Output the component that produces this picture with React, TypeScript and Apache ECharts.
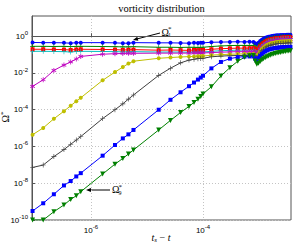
import React, { useEffect, useRef } from "react";
import * as echarts from "echarts";

// log10(t_s - t)
const tExp = [
  -7.04, -6.85, -6.66, -6.48, -6.36, -6.26, -6.18,
  -5.79, -5.57, -5.43, -5.33, -5.24,
  -4.79, -4.58, -4.40, -4.25, -4.16, -4.09, -4.04, -4.00,
  -3.85, -3.68, -3.52, -3.38, -3.26, -3.17, -3.10,
  -3.07, -3.04, -3.01, -2.98, -2.95, -2.92, -2.89, -2.86, -2.83, -2.80, -2.77,
  -2.74, -2.71, -2.68, -2.65, -2.62, -2.59, -2.56, -2.53, -2.50, -2.47, -2.44,
];

// log10(Omega_k^*)
const omega1 = [
  -0.34, -0.35, -0.35, -0.36, -0.38, -0.35, -0.35,
  -0.35, -0.36, -0.38, -0.38, -0.35,
  -0.36, -0.36, -0.37, -0.38, -0.36, -0.37, -0.36, -0.36,
  -0.33, -0.32, -0.31, -0.30, -0.31, -0.30, -0.32,
  -0.38, -0.42, -0.35, -0.26, -0.19, -0.14, -0.09, -0.06, -0.03, -0.01, 0.01,
  0.02, 0.04, 0.05, 0.05, 0.06, 0.07, 0.07, 0.07, 0.08, 0.08, 0.08,
];
const omega2 = [
  -0.55, -0.55, -0.56, -0.55, -0.57, -0.55, -0.55,
  -0.56, -0.57, -0.58, -0.58, -0.57,
  -0.60, -0.60, -0.61, -0.60, -0.60, -0.61, -0.60, -0.60,
  -0.56, -0.53, -0.51, -0.50, -0.50, -0.50, -0.50,
  -0.57, -0.62, -0.53, -0.42, -0.33, -0.27, -0.21, -0.17, -0.13, -0.11, -0.08,
  -0.07, -0.05, -0.04, -0.03, -0.03, -0.02, -0.01, -0.01, -0.01, 0.0, 0.0,
];
const omega3 = [
  -0.71, -0.71, -0.72, -0.73, -0.75, -0.72, -0.71,
  -0.72, -0.73, -0.75, -0.74, -0.73,
  -0.76, -0.75, -0.76, -0.77, -0.75, -0.76, -0.76, -0.75,
  -0.71, -0.68, -0.66, -0.65, -0.65, -0.65, -0.65,
  -0.72, -0.78, -0.67, -0.55, -0.45, -0.37, -0.30, -0.25, -0.21, -0.18, -0.16,
  -0.14, -0.12, -0.11, -0.10, -0.09, -0.08, -0.07, -0.07, -0.07, -0.06, -0.06,
];
const omega4 = [
  -0.82, -0.82, -0.83, -0.84, -0.86, -0.83, -0.82,
  -0.83, -0.84, -0.85, -0.85, -0.84,
  -0.86, -0.86, -0.86, -0.87, -0.86, -0.86, -0.86, -0.86,
  -0.82, -0.79, -0.77, -0.76, -0.75, -0.75, -0.75,
  -0.83, -0.90, -0.78, -0.65, -0.54, -0.46, -0.39, -0.33, -0.28, -0.25, -0.23,
  -0.21, -0.19, -0.17, -0.16, -0.15, -0.14, -0.14, -0.13, -0.13, -0.12, -0.12,
];
const omega5 = [
  -2.73, -2.37, -1.86, -1.57, -1.40, -1.24, -1.10,
  -0.98, -0.95, -0.94, -0.93, -0.93,
  -0.92, -0.92, -0.92, -0.92, -0.91, -0.91, -0.91, -0.91,
  -0.89, -0.87, -0.85, -0.84, -0.84, -0.84, -0.84,
  -0.92, -0.98, -0.86, -0.72, -0.61, -0.52, -0.45, -0.40, -0.35, -0.32, -0.29,
  -0.27, -0.25, -0.23, -0.22, -0.21, -0.20, -0.20, -0.19, -0.19, -0.18, -0.18,
];
const omega6 = [
  -5.36, -4.99, -4.49, -4.08, -3.78, -3.54, -3.35,
  -2.40, -1.95, -1.68, -1.49, -1.36,
  -1.20, -1.16, -1.13, -1.11, -1.10, -1.09, -1.09, -1.08,
  -1.03, -1.00, -0.98, -0.97, -0.96, -0.96, -0.96,
  -1.03, -1.08, -0.96, -0.82, -0.70, -0.61, -0.54, -0.48, -0.43, -0.40, -0.37,
  -0.35, -0.33, -0.31, -0.30, -0.29, -0.28, -0.28, -0.27, -0.27, -0.26, -0.26,
];
const omega7 = [
  -7.14, -7.01, -6.55, -6.17, -5.88, -5.65, -5.46,
  -4.48, -4.00, -3.68, -3.42, -3.20,
  -2.13, -1.74, -1.45, -1.30, -1.25, -1.22, -1.21, -1.20,
  -1.12, -1.08, -1.06, -1.05, -1.05, -1.05, -1.05,
  -1.12, -1.17, -1.05, -0.91, -0.80, -0.71, -0.64, -0.58, -0.53, -0.50, -0.47,
  -0.45, -0.43, -0.41, -0.40, -0.39, -0.38, -0.38, -0.37, -0.37, -0.36, -0.36,
];
const omega8 = [
  -9.51, -9.09, -8.60, -8.12, -7.88, -7.63, -7.45,
  -6.50, -5.92, -5.56, -5.34, -5.10,
  -4.00, -3.46, -3.05, -2.72, -2.52, -2.36, -2.25, -2.15,
  -1.75, -1.40, -1.22, -1.14, -1.11, -1.10, -1.10,
  -1.22, -1.30, -1.19, -1.07, -0.97, -0.89, -0.82, -0.77, -0.73, -0.70, -0.68,
  -0.66, -0.64, -0.63, -0.62, -0.61, -0.60, -0.59, -0.59, -0.59, -0.58, -0.58,
];
const omega9 = [
  -10.0, -10.0, -9.55, -9.18, -8.88, -8.68, -8.46,
  -7.50, -6.96, -6.65, -6.41, -6.19,
  -5.10, -4.58, -4.15, -3.82, -3.60, -3.43, -3.28, -3.14,
  -2.75, -2.16, -1.71, -1.36, -1.15, -1.06, -1.05,
  -1.35, -1.53, -1.47, -1.38, -1.30, -1.23, -1.17, -1.12, -1.07, -1.03, -1.00,
  -0.97, -0.94, -0.92, -0.90, -0.88, -0.86, -0.84, -0.83, -0.81, -0.80, -0.79,
];

const xTicks = [-6, -4];
const yTicks = [-10, -8, -6, -4, -2, 0];

const PLUS = "path://M-0.5,-4H0.5V-0.5H4V0.5H0.5V4H-0.5V0.5H-4V-0.5H-0.5Z";
const STAR =
  "path://M-0.6,-4H0.6V4H-0.6Z M3.16,2.52L3.76,1.48L-3.16,-2.52L-3.76,-1.48Z M3.16,-2.52L3.76,-1.48L-3.16,2.52L-3.76,1.48Z";

const seriesDefs = [
  { name: "Ω1", data: omega1, color: "#0000ff", symbol: "circle", size: 4, rot: 0 },
  { name: "Ω2", data: omega2, color: "#008000", symbol: PLUS, size: 5, rot: 0 },
  { name: "Ω3", data: omega3, color: "#ff0000", symbol: "rect", size: 4, rot: 0 },
  { name: "Ω4", data: omega4, color: "#00bfbf", symbol: PLUS, size: 5, rot: 0 },
  { name: "Ω5", data: omega5, color: "#bf00bf", symbol: STAR, size: 5, rot: 0 },
  { name: "Ω6", data: omega6, color: "#bfbf00", symbol: "circle", size: 4, rot: 0 },
  { name: "Ω7", data: omega7, color: "#404040", symbol: PLUS, size: 5, rot: 0 },
  { name: "Ω8", data: omega8, color: "#0000ff", symbol: "rect", size: 4, rot: 0 },
  { name: "Ω9", data: omega9, color: "#008000", symbol: "triangle", size: 5, rot: 180 },
];

const SERIF = "'Liberation Serif', 'DejaVu Serif', serif";
const SANS = "'Liberation Sans', Arial, sans-serif";

const tickLabelRich = {
  b: { fontSize: 8, fontFamily: SANS, color: "#000", lineHeight: 12 },
  s: { fontSize: 6, fontFamily: SANS, color: "#000", lineHeight: 6, verticalAlign: "top" },
};

export default function App() {
  const ref = useRef<HTMLDivElement>(null);
  useEffect(() => {
    if (!ref.current) return;
    const chart = echarts.init(ref.current, undefined, { renderer: "svg" });
    const option: any = {
      animation: false,
      backgroundColor: "#ffffff",
      grid: {
        left: 32,
        right: 3,
        top: 16,
        bottom: 25,
        show: true,
        borderColor: "#555",
        borderWidth: 1,
        outerBoundsMode: "none",
      },
      xAxis: {
        type: "value",
        min: -7.05,
        max: -2.43,
        axisLine: { show: true, lineStyle: { color: "#555", width: 1 } },
        axisTick: { show: true, inside: true, length: 3, customValues: xTicks, lineStyle: { color: "#555" } },
        axisLabel: {
          customValues: xTicks,
          margin: 4,
          formatter: (v: number) => `{b|10}{s|${v}}`,
          rich: tickLabelRich,
        },
        splitLine: { show: true, lineStyle: { color: "#c4c4c4", type: [1, 2], width: 1 } },
      },
      yAxis: {
        type: "value",
        min: -10,
        max: 1.1,
        axisLine: { show: true, lineStyle: { color: "#555", width: 1 } },
        axisTick: { show: true, inside: true, length: 3, customValues: yTicks, lineStyle: { color: "#555" } },
        axisLabel: {
          customValues: yTicks,
          margin: 4,
          formatter: (v: number) => `{b|10}{s|${v}}`,
          rich: tickLabelRich,
        },
        splitLine: { show: true, lineStyle: { color: "#c4c4c4", type: [1, 2], width: 1 } },
      },
      series: seriesDefs.map((s) => ({
        type: "line",
        name: s.name,
        data: tExp.map((x, i) => [x, s.data[i]]),
        symbol: s.symbol,
        symbolSize: s.size,
        symbolRotate: s.rot,
        showSymbol: true,
        showAllSymbol: true,
        clip: true,
        lineStyle: { color: s.color, width: 1 },
        itemStyle: { color: s.color },
        emphasis: { disabled: true },
        silent: true,
      })),
      graphic: [
        {
          type: "text",
          x: 161.5,
          y: 8,
          style: {
            text: "vorticity distribution",
            font: `10.5px ${SERIF}`,
            fill: "#000",
            align: "center",
            verticalAlign: "middle",
          },
        },
        // y axis label
        {
          type: "text",
          x: 5,
          y: 117,
          rotation: Math.PI / 2,
          style: {
            text: "{o|Ω}{s|*}",
            align: "center",
            verticalAlign: "middle",
            rich: {
              o: { fontSize: 10, fontFamily: SERIF, fill: "#000", lineHeight: 12 },
              s: { fontSize: 7, fontFamily: SERIF, fill: "#000", lineHeight: 7, verticalAlign: "top" },
            },
          },
        },
        // x axis label
        {
          type: "text",
          x: 161,
          y: 237,
          style: {
            text: "{i|t}{u|s}{n| − }{i|t}",
            align: "center",
            verticalAlign: "middle",
            rich: {
              i: { fontSize: 10, fontFamily: SERIF, fontStyle: "italic", fill: "#000", lineHeight: 12 },
              u: { fontSize: 7, fontFamily: SERIF, fontStyle: "italic", fill: "#000", lineHeight: 7, verticalAlign: "bottom" },
              n: { fontSize: 10, fontFamily: SERIF, fill: "#000", lineHeight: 12 },
            },
          },
        },
        // Omega_1^* annotation
        { type: "line", shape: { x1: 160, y1: 33, x2: 136, y2: 39.2 }, style: { stroke: "#000", lineWidth: 1 } },
        { type: "polygon", shape: { points: [[133, 40], [137.3, 36.8], [138.3, 40.7]] }, style: { fill: "#000" } },
        { type: "text", x: 161.5, y: 32, style: { text: "Ω", font: `10px ${SERIF}`, fill: "#000", verticalAlign: "middle" } },
        { type: "text", x: 168, y: 29, style: { text: "*", font: `7px ${SERIF}`, fill: "#000", verticalAlign: "middle" } },
        { type: "text", x: 168, y: 35, style: { text: "1", font: `6px ${SERIF}`, fill: "#000", verticalAlign: "middle" } },
        // Omega_9^* annotation
        { type: "line", shape: { x1: 110, y1: 190, x2: 90, y2: 190 }, style: { stroke: "#000", lineWidth: 1 } },
        { type: "polygon", shape: { points: [[86, 190], [91, 188], [91, 192]] }, style: { fill: "#000" } },
        { type: "text", x: 112, y: 189.5, style: { text: "Ω", font: `10px ${SERIF}`, fill: "#000", verticalAlign: "middle" } },
        { type: "text", x: 118.5, y: 186.5, style: { text: "*", font: `7px ${SERIF}`, fill: "#000", verticalAlign: "middle" } },
        { type: "text", x: 118.5, y: 192.5, style: { text: "9", font: `6px ${SERIF}`, fill: "#000", verticalAlign: "middle" } },
      ],
    };
    chart.setOption(option);
    return () => chart.dispose();
  }, []);
  return (
    <div
      ref={ref}
      style={{ position: "absolute", left: 0, top: 0, width: 294, height: 245, background: "#fff" }}
    />
  );
}
